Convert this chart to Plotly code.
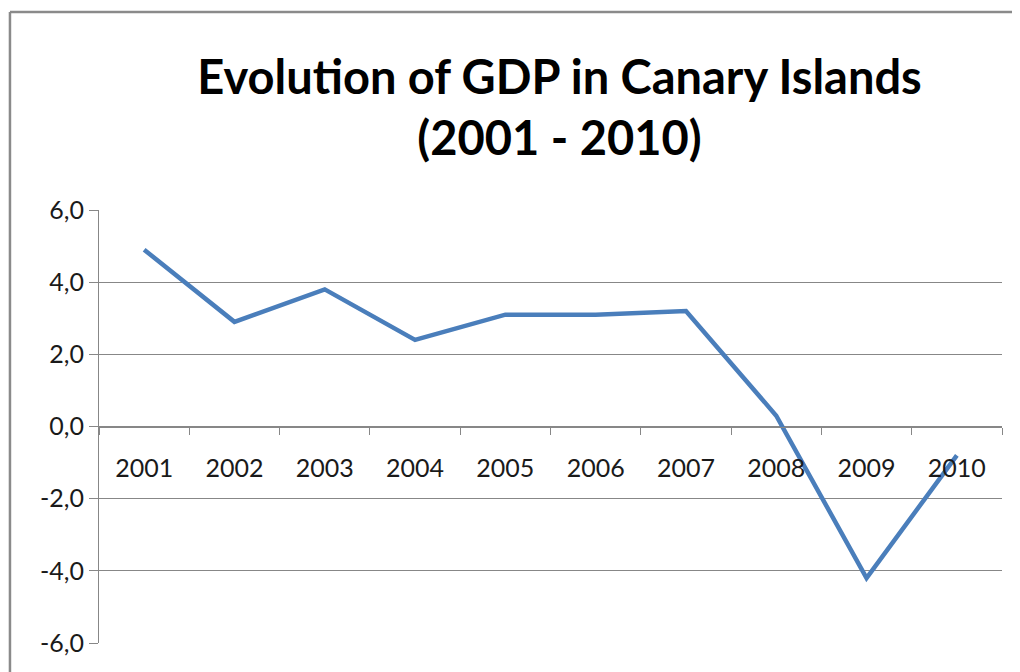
import plotly.graph_objects as go

years = ["2001", "2002", "2003", "2004", "2005", "2006", "2007", "2008", "2009", "2010"]
gdp_growth = [4.9, 2.9, 3.8, 2.4, 3.1, 3.1, 3.2, 0.3, -4.2, -0.8]
y_tick_vals = [-6, -4, -2, 0, 2, 4, 6]
y_tick_text = ["-6,0", "-4,0", "-2,0", "0,0", "2,0", "4,0", "6,0"]
title_text = "Evolution of GDP in Canary Islands<br>(2001 - 2010)"

FONT = "Lato"
GRID = "#878787"

fig = go.Figure()
fig.add_trace(go.Scatter(
    x=years, y=gdp_growth, mode="lines",
    line=dict(color="#4a7ebb", width=4.5),
    hoverinfo="x+y",
))

fig.update_layout(
    width=1012, height=664,
    paper_bgcolor="white", plot_bgcolor="white",
    margin=dict(l=91, r=18, t=202, b=29),
    showlegend=False,
    title=dict(
        text=title_text,
        x=551.5 / 1012, xref="container", xanchor="center",
        y=1 - 85.5 / 664, yref="container", yanchor="top",
        font=dict(family=FONT, size=47, color="black", weight="bold"),
    ),
    font=dict(family=FONT, color="#1a1a1a"),
    xaxis=dict(
        type="category",
        anchor="free", position=0.5,
        showline=True, linecolor=GRID, linewidth=1.2,
        ticks="outside", tickson="boundaries", ticklen=7, tickcolor=GRID, tickwidth=1.2,
        showgrid=False, zeroline=False,
        tickfont=dict(family=FONT, size=25, color="#1a1a1a"),
        ticklabelstandoff=19,
        range=[-0.5, 9.5],
    ),
    yaxis=dict(
        range=[-6, 6],
        tickvals=y_tick_vals, ticktext=y_tick_text,
        showline=True, linecolor=GRID, linewidth=1.2,
        ticks="outside", ticklen=9, tickcolor=GRID, tickwidth=1.2,
        showgrid=True, gridcolor=GRID, gridwidth=1.2,
        zeroline=False,
        tickfont=dict(family=FONT, size=25, color="#1a1a1a"),
        ticklabelstandoff=0,
    ),
    shapes=[
        dict(type="line", xref="paper", yref="paper",
             x0=-0.0986, x1=1.2, y0=1.457, y1=1.457,
             line=dict(color="#8a8a8a", width=2.5)),
        dict(type="line", xref="paper", yref="paper",
             x0=-0.0986, x1=-0.0986, y0=-0.3, y1=1.457,
             line=dict(color="#8a8a8a", width=2.5)),
    ],
)

fig.write_html("out.html")
